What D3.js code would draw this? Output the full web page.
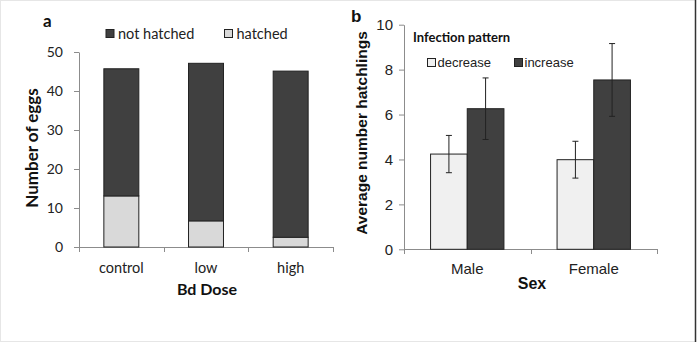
<!DOCTYPE html>
<html>
<head>
<meta charset="utf-8">
<script src="https://cdn.jsdelivr.net/npm/d3@7"></script>
<style>
  body { margin: 0; background: #fff; }
  svg { display: block; }
</style>
</head>
<body>
<svg id="chart" width="697" height="342"></svg>
<script>
// panel a data
let doses = ["control", "low", "high"]
let hatched = [13.1, 6.7, 2.5]
let notHatched = [32.6, 40.4, 42.6]   // stacked on top of hatched
let eggTicks = [0, 10, 20, 30, 40, 50]

// panel b data
let sexes = ["Male", "Female"]
let patterns = ["decrease", "increase"]
let meanDecrease = [4.24, 3.99]
let meanIncrease = [6.26, 7.54]
let errDecrease = [0.83, 0.82]
let errIncrease = [1.37, 1.62]
let hatchTicks = [0, 2, 4, 6, 8, 10]

let svg = d3.select("#chart")
let fontA = "Lato, 'Open Sans', sans-serif"
let fontB = "'Liberation Sans', Arial, sans-serif"
let dark = "#404040"
let axisGray = "#8c8c8c"

// frame
svg.append("rect").attr("x", 0.5).attr("y", 0.5).attr("width", 695).attr("height", 341)
    .attr("fill", "none").attr("stroke", "#e6e6e6")
svg.append("line").attr("x1", 695.5).attr("x2", 695.5).attr("y1", 0).attr("y2", 342)
    .attr("stroke", "#333").attr("stroke-width", 1.5)

// ---------- panel a ----------
let ga = svg.append("g")
let xA = d3.scaleBand().domain(doses).range([79, 333]).paddingInner(0.587).paddingOuter(0.2935)
let yA = d3.scaleLinear().domain([0, 50]).range([247, 52])

let yAxisA = d3.axisLeft(yA).tickValues(eggTicks).tickSize(5).tickSizeOuter(0).tickPadding(11)
let yA_g = ga.append("g").attr("transform", "translate(79,0)").call(yAxisA)
yA_g.selectAll("path, line").attr("stroke", axisGray)
yA_g.selectAll("text").attr("font-family", fontA).attr("font-size", 14).attr("fill", "#222")

// x axis line and boundary ticks
ga.append("line").attr("x1", 79).attr("x2", 333).attr("y1", 247.5).attr("y2", 247.5).attr("stroke", axisGray)
d3.range(doses.length + 1).forEach(function(i) {
    let bx = Math.round(xA.range()[0] + i * xA.step()) + 0.5
    ga.append("line").attr("x1", bx).attr("x2", bx).attr("y1", 247).attr("y2", 252).attr("stroke", axisGray)
})

// stacked bars
ga.selectAll(".hatched").data(doses).enter().append("rect")
    .attr("x", d => xA(d))
    .attr("width", xA.bandwidth())
    .attr("y", (d, i) => yA(hatched[i]))
    .attr("height", (d, i) => yA(0) - yA(hatched[i]))
    .attr("fill", "#d9d9d9").attr("stroke", "#222")
ga.selectAll(".nothatched").data(doses).enter().append("rect")
    .attr("x", d => xA(d))
    .attr("width", xA.bandwidth())
    .attr("y", (d, i) => yA(hatched[i] + notHatched[i]))
    .attr("height", (d, i) => yA(hatched[i]) - yA(hatched[i] + notHatched[i]))
    .attr("fill", dark).attr("stroke", "#222")

// category labels
ga.selectAll(".xlab").data(doses).enter().append("text")
    .attr("x", d => xA(d) + xA.bandwidth() / 2)
    .attr("y", 273)
    .attr("text-anchor", "middle")
    .attr("font-family", fontA).attr("font-size", 14.5).attr("fill", "#222")
    .text(d => d)

ga.append("text").attr("x", 207).attr("y", 295).attr("text-anchor", "middle")
    .attr("font-family", fontA).attr("font-size", 16).attr("font-weight", "bold").attr("fill", "#111")
    .text("Bd Dose")
ga.append("text").attr("transform", "translate(38,148) rotate(-90)").attr("text-anchor", "middle")
    .attr("font-family", fontA).attr("font-size", 17).attr("font-weight", "bold").attr("fill", "#111")
    .text("Number of eggs")
ga.append("text").attr("x", 43).attr("y", 27)
    .attr("font-family", fontA).attr("font-size", 17).attr("font-weight", "bold").attr("fill", "#111")
    .text("a")

// legend a
let legA = [["not hatched", dark, 106], ["hatched", "#d9d9d9", 224.5]]
legA.forEach(function(l) {
    ga.append("rect").attr("x", l[2]).attr("y", 29.5).attr("width", 8).attr("height", 8)
        .attr("fill", l[1]).attr("stroke", "#222")
    ga.append("text").attr("x", l[2] + 12).attr("y", 38.5)
        .attr("font-family", fontA).attr("font-size", 14.5).attr("fill", "#222")
        .text(l[0])
})

// ---------- panel b ----------
let gb = svg.append("g")
let x0 = d3.scaleBand().domain(sexes).range([404, 657]).paddingInner(0.42).paddingOuter(0.21)
let x1 = d3.scaleBand().domain(patterns).range([0, x0.bandwidth()])
let yB = d3.scaleLinear().domain([0, 10]).range([249.3, 24.7])
let colB = d3.scaleOrdinal().domain(patterns).range(["#f0f0f0", dark])

let yAxisB = d3.axisLeft(yB).tickValues(hatchTicks).tickSize(5).tickSizeOuter(0).tickPadding(6)
let yB_g = gb.append("g").attr("transform", "translate(404,0)").call(yAxisB)
yB_g.selectAll("path, line").attr("stroke", axisGray)
yB_g.selectAll("text").attr("font-family", fontB).attr("font-size", 15).attr("fill", "#222")

gb.append("line").attr("x1", 404).attr("x2", 657).attr("y1", 249.5).attr("y2", 249.5).attr("stroke", axisGray)
d3.range(sexes.length + 1).forEach(function(i) {
    let bx = Math.round(x0.range()[0] + i * x0.step()) + 0.5
    gb.append("line").attr("x1", bx).attr("x2", bx).attr("y1", 249).attr("y2", 254).attr("stroke", axisGray)
})

let barsB = []
sexes.forEach(function(s, i) {
    barsB.push({sex: s, pat: "decrease", mean: meanDecrease[i], err: errDecrease[i]})
    barsB.push({sex: s, pat: "increase", mean: meanIncrease[i], err: errIncrease[i]})
})

gb.selectAll(".barb").data(barsB).enter().append("rect")
    .attr("x", d => x0(d.sex) + x1(d.pat))
    .attr("width", x1.bandwidth())
    .attr("y", d => yB(d.mean))
    .attr("height", d => yB(0) - yB(d.mean))
    .attr("fill", d => colB(d.pat)).attr("stroke", "#222")

// error bars
let eb = gb.selectAll(".err").data(barsB).enter().append("g")
eb.append("line")
    .attr("x1", d => x0(d.sex) + x1(d.pat) + x1.bandwidth() / 2)
    .attr("x2", d => x0(d.sex) + x1(d.pat) + x1.bandwidth() / 2)
    .attr("y1", d => yB(d.mean + d.err))
    .attr("y2", d => yB(d.mean - d.err))
    .attr("stroke", "#222")
eb.selectAll(".cap").data(d => [d, Object.assign({}, d, {err: -d.err})]).enter().append("line")
    .attr("x1", d => x0(d.sex) + x1(d.pat) + x1.bandwidth() / 2 - 3)
    .attr("x2", d => x0(d.sex) + x1(d.pat) + x1.bandwidth() / 2 + 3)
    .attr("y1", d => yB(d.mean + d.err))
    .attr("y2", d => yB(d.mean + d.err))
    .attr("stroke", "#222")

gb.selectAll(".xlabb").data(sexes).enter().append("text")
    .attr("x", d => x0(d) + x0.bandwidth() / 2)
    .attr("y", 274)
    .attr("text-anchor", "middle")
    .attr("font-family", fontB).attr("font-size", 15).attr("fill", "#222")
    .text(d => d)

gb.append("text").attr("x", 532).attr("y", 289).attr("text-anchor", "middle")
    .attr("font-family", fontB).attr("font-size", 16).attr("font-weight", "bold").attr("fill", "#111")
    .text("Sex")
gb.append("text").attr("transform", "translate(367,133) rotate(-90)").attr("text-anchor", "middle")
    .attr("font-family", fontB).attr("font-size", 15.5).attr("font-weight", "bold").attr("fill", "#111")
    .text("Average number hatchlings")
gb.append("text").attr("x", 351).attr("y", 22)
    .attr("font-family", fontB).attr("font-size", 17).attr("font-weight", "bold").attr("fill", "#111")
    .text("b")

// legend b
gb.append("text").attr("x", 413).attr("y", 42)
    .attr("font-family", fontA).attr("font-size", 13).attr("font-weight", "bold").attr("fill", "#111")
    .text("Infection pattern")
let legBx = [427.5, 514.5]
patterns.forEach(function(p, i) {
    gb.append("rect").attr("x", legBx[i]).attr("y", 58.5).attr("width", 8).attr("height", 8)
        .attr("fill", colB(p)).attr("stroke", "#222")
    gb.append("text").attr("x", legBx[i] + 10).attr("y", 67)
        .attr("font-family", fontB).attr("font-size", 13).attr("fill", "#222")
        .text(p)
})
</script>
</body>
</html>
